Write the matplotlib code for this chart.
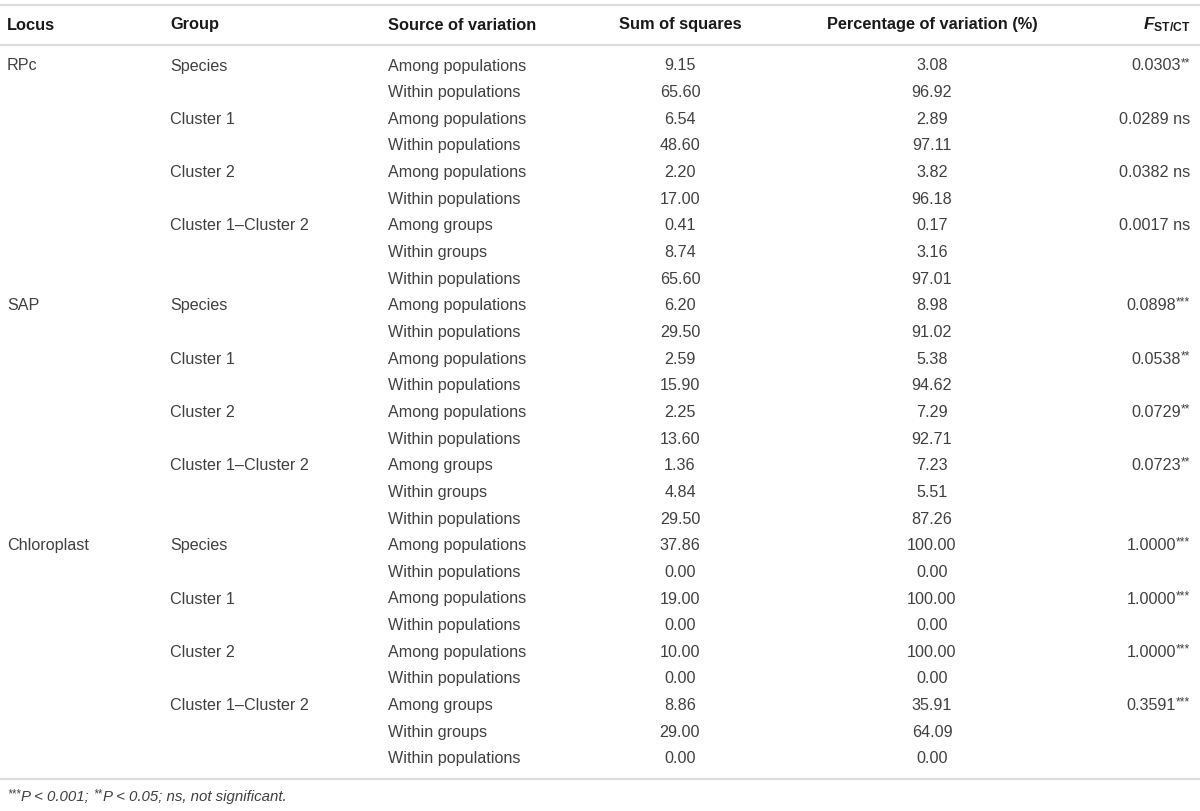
import matplotlib
matplotlib.use("Agg")
import matplotlib.pyplot as plt

# ============================================================
# data read off the table
# ============================================================

LOCI    = ["RPc", "SAP", "Chloroplast"]
GROUPS  = ["Species", "Cluster 1", "Cluster 2", "Cluster 1\u2013Cluster 2"]
SOURCES = [
    ["Among populations", "Within populations"],
    ["Among populations", "Within populations"],
    ["Among populations", "Within populations"],
    ["Among groups", "Within groups", "Within populations"],
]

SUM_SQ = {
    "RPc":         [9.15, 65.60, 6.54, 48.60, 2.20, 17.00, 0.41, 8.74, 65.60],
    "SAP":         [6.20, 29.50, 2.59, 15.90, 2.25, 13.60, 1.36, 4.84, 29.50],
    "Chloroplast": [37.86, 0.00, 19.00, 0.00, 10.00, 0.00, 8.86, 29.00, 0.00],
}
PCT_VAR = {
    "RPc":         [3.08, 96.92, 2.89, 97.11, 3.82, 96.18, 0.17, 3.16, 97.01],
    "SAP":         [8.98, 91.02, 5.38, 94.62, 7.29, 92.71, 7.23, 5.51, 87.26],
    "Chloroplast": [100.00, 0.00, 100.00, 0.00, 100.00, 0.00, 35.91, 64.09, 0.00],
}
F_VAL = {
    "RPc":         [0.0303, 0.0289, 0.0382, 0.0017],
    "SAP":         [0.0898, 0.0538, 0.0729, 0.0723],
    "Chloroplast": [1.0000, 1.0000, 1.0000, 0.3591],
}
F_SIG = {
    "RPc":         ["**", "ns", "ns", "ns"],
    "SAP":         ["***", "**", "**", "**"],
    "Chloroplast": ["***", "***", "***", "***"],
}

HEADERS = ["Locus", "Group", "Source of variation", "Sum of squares",
           "Percentage of variation (%)"]

# ============================================================
# layout (pixels, figure is 1200 x 811)
# ============================================================

W, H = 1200, 811
X_LOCUS, X_GROUP, X_SOURCE = 7, 170, 388
X_SS, X_PCT, X_F = 680, 932, 1190
Y_TOP_LINE, Y_HEAD, Y_HEAD_LINE = 5, 25, 45
Y_ROW0, ROW_H = 66, 26.65
Y_BOT_LINE, Y_NOTE = 779, 797

FS = 11.65
BODY = "#404040"
HEAD = "#1a1a1a"
RULE = "#dcdcdc"

plt.rcParams["font.family"] = ["Liberation Sans", "DejaVu Sans"]
plt.rcParams["mathtext.fontset"] = "custom"
plt.rcParams["mathtext.rm"] = "Liberation Sans"
plt.rcParams["mathtext.bf"] = "Liberation Sans:bold"
plt.rcParams["mathtext.it"] = "Liberation Sans:italic"
plt.rcParams["mathtext.bfit"] = "Liberation Sans:bold:italic"

fig = plt.figure(figsize=(W / 100, H / 100), dpi=100)
ax = fig.add_axes([0, 0, 1, 1])
ax.set_xlim(0, W)
ax.set_ylim(H, 0)
ax.axis("off")
renderer = fig.canvas.get_renderer()


def width_px(txt):
    bb = txt.get_window_extent(renderer=renderer)
    return bb.width


def star_text(x_right, y, value, sig):
    """value right-aligned with a small raised significance mark after it."""
    if sig == "ns":
        ax.text(x_right, y, f"{value:.4f} ns", ha="right", va="center",
                fontsize=FS, color=BODY)
        return
    s = ax.text(x_right, y - 3, sig, ha="right", va="center",
                fontsize=FS * 0.74, color=BODY)
    ax.text(x_right - width_px(s), y, f"{value:.4f}", ha="right",
            va="center", fontsize=FS, color=BODY)


# rules
for yy in (Y_TOP_LINE, Y_HEAD_LINE, Y_BOT_LINE):
    ax.plot([0, W], [yy, yy], color=RULE, lw=1.6, solid_capstyle="butt")

# header
hx = [X_LOCUS, X_GROUP, X_SOURCE, X_SS, X_PCT]
ha = ["left", "left", "left", "center", "center"]
for x, h, a in zip(hx, HEADERS, ha):
    ax.text(x, Y_HEAD, h, ha=a, va="center", fontsize=FS + 0.1,
            fontweight="bold", color=HEAD)
ax.text(X_F, Y_HEAD, r"$\mathbfit{F}_{\mathbf{ST/CT}}$", ha="right",
        va="center", fontsize=FS + 0.8, color=HEAD)

# body
row = 0
for locus in LOCI:
    ax.text(X_LOCUS, Y_ROW0 + row * ROW_H, locus, ha="left", va="center",
            fontsize=FS, color=BODY)
    k = 0
    for g, (group, srcs) in enumerate(zip(GROUPS, SOURCES)):
        y_g = Y_ROW0 + row * ROW_H
        ax.text(X_GROUP, y_g, group, ha="left", va="center",
                fontsize=FS, color=BODY)
        star_text(X_F, y_g, F_VAL[locus][g], F_SIG[locus][g])
        for src in srcs:
            y = Y_ROW0 + row * ROW_H
            ax.text(X_SOURCE, y, src, ha="left", va="center",
                    fontsize=FS, color=BODY)
            ax.text(X_SS, y, f"{SUM_SQ[locus][k]:.2f}", ha="center",
                    va="center", fontsize=FS, color=BODY)
            ax.text(X_PCT, y, f"{PCT_VAR[locus][k]:.2f}", ha="center",
                    va="center", fontsize=FS, color=BODY)
            k += 1
            row += 1

# footnote
parts = [("***", True), ("P", False), (" < 0.001; ", False),
         ("**", True), ("P", False), (" < 0.05; ns, not significant.", False)]
x = X_LOCUS
for txt, sup in parts:
    t = ax.text(x, Y_NOTE - (3 if sup else 0), txt, ha="left", va="center",
                fontsize=FS * (0.72 if sup else 0.93), style="italic",
                color=BODY)
    x += width_px(t)

fig.savefig("out.png", dpi=100)
